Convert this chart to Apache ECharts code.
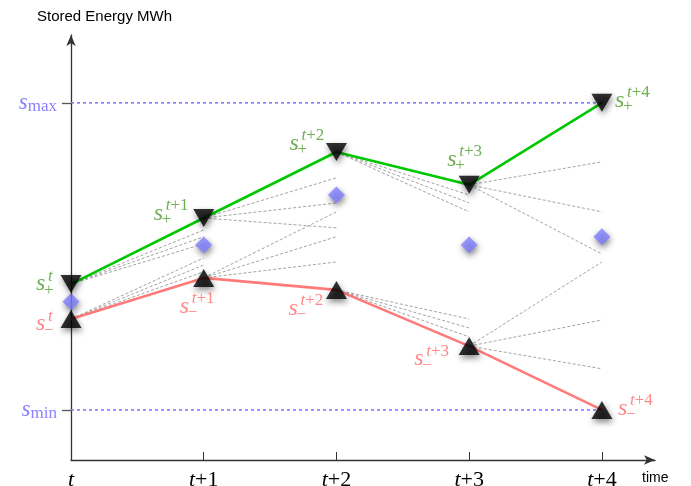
<!DOCTYPE html>
<html>
<head>
<meta charset="utf-8">
<script src="https://cdn.jsdelivr.net/npm/echarts@6/dist/echarts.min.js"></script>
<style>
  html, body { margin: 0; padding: 0; background: #fff; }
  #chart { width: 691px; height: 486px; }
</style>
</head>
<body>
<div id="chart"></div>
<script>
// time steps t, t+1, ... t+4
const steps = [0, 1, 2, 3, 4];
const stepSuffix = ['', '+1', '+2', '+3', '+4'];

// stored energy, scaled so that s_min = 0 and s_max = 100
const sMin = 0;
const sMax = 100;
const upper = [41.0, 62.5, 84.0, 73.3, 100];   // s+
const lower = [29.6, 43.0, 39.1, 20.8, 0];     // s-
const expected = [35.2, 53.7, 70.0, 53.7, 56.4];

// fan of scenario lines: end values at the next step
const fanUpper = [[58.6, 56.4, 54.1], [75.6, 67.4, 59.3], [70.0, 67.4, 64.5], [80.8, 64.5, 50.8]];
const fanLower = [[49.5, 47.2, 45.0], [64.5, 56.4, 48.2], [29.6, 26.7, 23.8], [48.2, 29.3, 13.4]];

const GREEN_TXT = '#4b9a2b';
const RED_TXT = '#ff6b6b';
const SERIF = 'Liberation Serif';

const chart = echarts.init(document.getElementById('chart'));

// where the "s" of each point label sits, px from the marker
const upperOffsets = [[-35, 1], [-50, -3], [-47, -7], [-22, -24], [13, -1]];
const lowerOffsets = [[-35, 6], [-24, 30], [-48, 20], [-55, 14], [16, 0]];

const shadow = {
    shadowBlur: 6,
    shadowColor: 'rgba(0,0,0,0.6)',
    shadowOffsetX: 1,
    shadowOffsetY: 3
};

// build fan segments
const fanData = [];
for (let k = 0; k < steps.length - 1; k++) {
    fanUpper[k].forEach(v => fanData.push({ coords: [[steps[k], upper[k]], [steps[k + 1], v]] }));
    fanLower[k].forEach(v => fanData.push({ coords: [[steps[k], lower[k]], [steps[k + 1], v]] }));
}

// one part of a point label (s, superscript or subscript), on an invisible scatter
function labelPart(name, values, offsets, dx, dy, textFn, color, size) {
    return {
        name: name,
        type: 'scatter',
        symbolSize: 1,
        silent: true,
        z: 6,
        itemStyle: { color: 'transparent' },
        label: {
            show: true,
            position: 'inside',
            align: 'left',
            verticalAlign: 'middle',
            color: color,
            rich: {
                i: { fontFamily: SERIF, fontStyle: 'italic', fontSize: size, color: color },
                n: { fontFamily: SERIF, fontSize: size, color: color }
            }
        },
        data: steps.map((x, i) => ({
            value: [x, values[i]],
            label: {
                offset: [offsets[i][0] + dx, offsets[i][1] + dy],
                formatter: textFn(i)
            }
        }))
    };
}

function labelSet(prefix, values, offsets, sign, color) {
    return [
        labelPart(prefix + ' s', values, offsets, 0, -1.5, () => '{i|s}', color, 24),
        labelPart(prefix + ' sup', values, offsets, 12, -9,
            i => '{i|t}' + (stepSuffix[i] ? '{n|' + stepSuffix[i] + '}' : ''), color, 17),
        labelPart(prefix + ' sub', values, offsets, 8, 5, () => '{n|' + sign + '}', color, 17)
    ];
}

const option = {
    backgroundColor: '#fff',
    animation: false,
    grid: {
        left: 71,
        right: 36,
        top: 35,
        bottom: 26,
        outerBoundsMode: 'none'
    },
    graphic: [
        {
            type: 'text', left: 37, top: 9,
            style: { text: 'Stored Energy MWh', font: '15px "Liberation Sans"', fill: '#000' }
        },
        {
            type: 'text', left: 642, top: 471,
            style: { text: 'time', font: '14px "Liberation Sans"', fill: '#000' }
        }
    ],
    xAxis: {
        type: 'value',
        min: 0,
        max: 4.4,
        splitLine: { show: false },
        axisLine: {
            onZero: false,
            symbol: ['none', 'arrow'],
            symbolSize: [7, 11],
            lineStyle: { color: '#333', width: 1.3 }
        },
        axisTick: {
            inside: true,
            length: 8,
            customValues: [1, 2, 3, 4],
            lineStyle: { color: '#333' }
        },
        axisLabel: {
            customValues: steps,
            margin: 9,
            formatter: v => '{i|t}' + (stepSuffix[v] ? '{n|' + stepSuffix[v] + '}' : ''),
            rich: {
                i: { fontFamily: SERIF, fontStyle: 'italic', fontSize: 22, color: '#000' },
                n: { fontFamily: SERIF, fontSize: 22, color: '#000' }
            }
        }
    },
    yAxis: {
        type: 'value',
        min: -16.3,
        max: 122.1,
        splitLine: { show: false },
        axisLine: {
            onZero: false,
            symbol: ['none', 'arrow'],
            symbolSize: [7, 11],
            lineStyle: { color: '#333', width: 1.3 }
        },
        axisTick: {
            length: 9,
            customValues: [sMin, sMax],
            lineStyle: { color: '#555', width: 1.3 }
        },
        axisLabel: {
            customValues: [sMin, sMax],
            margin: 14,
            formatter: v => '{s|s}{sub|' + (v === sMax ? 'max' : 'min') + '}',
            rich: {
                s: { fontFamily: SERIF, fontStyle: 'italic', fontSize: 23, lineHeight: 16, color: '#8a80ff' },
                sub: { fontFamily: SERIF, fontSize: 17, lineHeight: 12, padding: [7, 0, 0, 0], color: '#8a80ff' }
            }
        }
    },
    series: [
        {
            name: 'scenarios',
            type: 'lines',
            coordinateSystem: 'cartesian2d',
            silent: true,
            z: 1,
            lineStyle: { color: '#8c8c8c', width: 0.8, type: [3, 2], opacity: 1 },
            data: fanData
        },
        {
            name: 's_max',
            type: 'line',
            symbol: 'none',
            z: 2,
            lineStyle: { color: '#7272ff', width: 1.5, type: [3, 3] },
            data: [[steps[0], sMax], [steps[4], sMax]]
        },
        {
            name: 's_min',
            type: 'line',
            symbol: 'none',
            z: 2,
            lineStyle: { color: '#7272ff', width: 1.5, type: [3, 3] },
            data: [[steps[0], sMin], [steps[4], sMin]]
        },
        {
            name: 'upper',
            type: 'line',
            symbol: 'none',
            z: 3,
            lineStyle: { color: '#00c800', width: 2.6 },
            data: steps.map((x, i) => [x, upper[i]])
        },
        {
            name: 'lower',
            type: 'line',
            symbol: 'none',
            z: 3,
            lineStyle: { color: '#ff7a7a', width: 2.6 },
            data: steps.map((x, i) => [x, lower[i]])
        },
        {
            name: 'expected',
            type: 'scatter',
            symbol: 'diamond',
            symbolSize: 17,
            z: 4,
            itemStyle: Object.assign({ color: '#8080ff' }, shadow),
            data: steps.map((x, i) => [x, expected[i]])
        },
        {
            name: 'upper marks',
            type: 'scatter',
            symbol: 'path://M0,0L20,0L10,17Z',
            symbolSize: [21, 18],
            z: 5,
            itemStyle: Object.assign({ color: '#000' }, shadow),
            data: steps.map((x, i) => [x, upper[i]])
        },
        {
            name: 'lower marks',
            type: 'scatter',
            symbol: 'triangle',
            symbolSize: [21, 18],
            z: 5,
            itemStyle: Object.assign({ color: '#000' }, shadow),
            data: steps.map((x, i) => [x, lower[i]])
        },
        ...labelSet('upper', upper, upperOffsets, '+', GREEN_TXT),
        ...labelSet('lower', lower, lowerOffsets, '\u2212', RED_TXT)
    ]
};

chart.setOption(option);

window.addEventListener('resize', () => {
    chart && chart.resize();
});
</script>
</body>
</html>
